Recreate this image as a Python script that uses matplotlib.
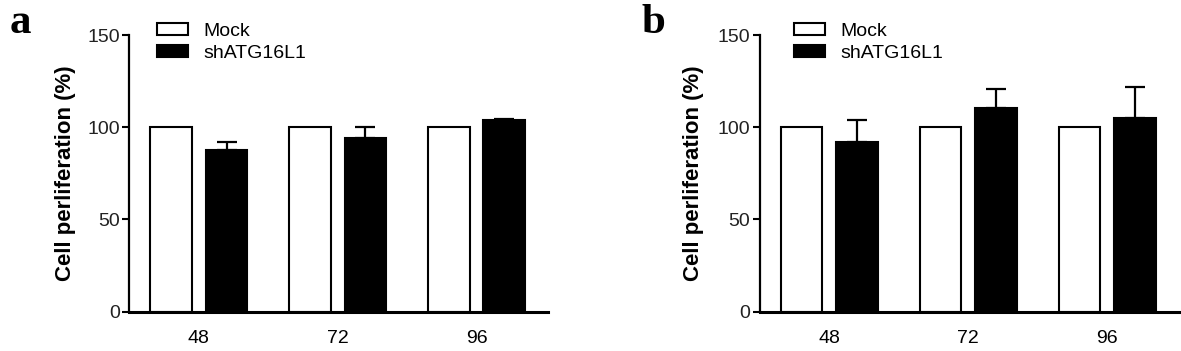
import matplotlib.pyplot as plt
import numpy as np

plt.rcParams["font.family"] = ["Liberation Sans", "DejaVu Sans"]

hours = ["48", "72", "96"]
mock_a = [100, 100, 100]
sh_a = [87.8, 94.1, 103.9]
sh_a_err = [4.0, 5.8, 0.7]
mock_b = [100, 100, 100]
sh_b = [91.8, 110.4, 105.3]
sh_b_err = [12.1, 10.5, 16.3]

panels = [
    ("a", [0.1096, 0.112, 0.3544, 0.788], mock_a, sh_a, sh_a_err, 0.066, -0.128, 0.0085),
    ("b", [0.6433, 0.112, 0.3550, 0.788], mock_b, sh_b, sh_b_err, 0.082, -0.133, 0.543),
]


def main() -> None:
    fig = plt.figure(figsize=(11.81, 3.51), dpi=100)
    x = np.arange(len(hours))
    width = 0.30

    for letter, rect, mock, sh, err, leg_x, lab_x, let_x in panels:
        ax = fig.add_axes(rect)
        ax.bar(x - 0.2, mock, width, color="white", edgecolor="black",
               linewidth=1.5, label="Mock", zorder=2)
        ax.bar(x + 0.2, sh, width, color="black", edgecolor="black",
               linewidth=1.5, label="shATG16L1", zorder=2)
        ax.errorbar(x + 0.2, sh, yerr=[np.zeros(len(sh)), err], fmt="none",
                    ecolor="black", elinewidth=1.6, capsize=7.5, capthick=1.6,
                    zorder=1)

        ax.set_xlim(-0.5, 2.515)
        ax.set_ylim(0, 150)
        ax.set_yticks([0, 50, 100, 150])
        ax.set_xticks(x)
        ax.set_xticklabels(hours)
        ax.tick_params(axis="x", length=0, pad=13, labelsize=14)
        ax.tick_params(axis="y", length=5, width=1.5, pad=2, labelsize=14,
                       labelcolor="#222222")
        for side in ("top", "right"):
            ax.spines[side].set_visible(False)
        ax.spines["left"].set_linewidth(1.6)
        ax.spines["bottom"].set_linewidth(2.2)

        ax.set_ylabel("Cell perliferation (%)", fontsize=16, fontweight="bold")
        ax.yaxis.set_label_coords(lab_x, 0.5)

        ax.legend(loc="upper left", bbox_to_anchor=(leg_x, 1.045), frameon=False,
                  fontsize=14, handlelength=1.6, handleheight=0.57,
                  handletextpad=0.77, labelspacing=0.29, borderpad=0,
                  borderaxespad=0)

        fig.text(let_x, 0.906, letter, fontsize=31, fontweight="bold",
                 family=["Liberation Serif", "DejaVu Serif"], va="baseline")

    fig.savefig("out.png", dpi=100)


if __name__ == "__main__":
    main()
